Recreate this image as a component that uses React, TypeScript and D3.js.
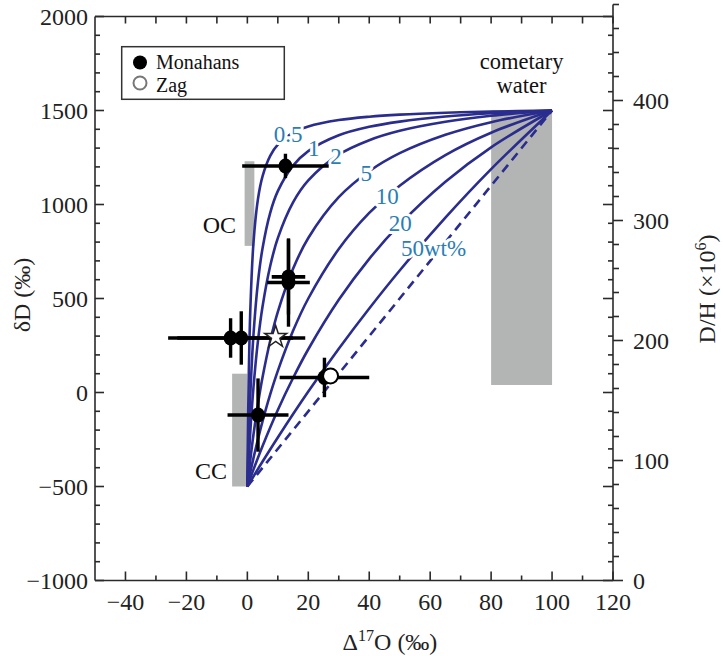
import React from "react";
import * as d3 from "d3";

const W = 723;
const H = 656;

// Axis ticks
const xMajor = [-40, -20, 0, 20, 40, 60, 80, 100, 120];
const xMinor = [-30, -10, 10, 30, 50, 70, 90, 110];
const yMajor = [-1000, -500, 0, 500, 1000, 1500, 2000];
const yMinor = [-900, -800, -700, -600, -400, -300, -200, -100, 100, 200, 300, 400, 600, 700, 800, 900, 1100, 1200, 1300, 1400, 1600, 1700, 1800, 1900];
const dhMajor = [0, 100, 200, 300, 400];
const dhMinor = [20, 40, 60, 80, 120, 140, 160, 180, 220, 240, 260, 280, 320, 340, 360, 380, 420, 440, 460, 480];

// Mixing curves (Δ17O, δD)
const curve05: [number, number][] = [[0, -500], [0.1, -335], [0.25, -132], [0.5, 123], [1, 452], [2, 795], [3.5, 1031], [5, 1151], [7.5, 1259], [10, 1318], [15, 1382], [20, 1415], [30, 1449], [40, 1467], [50, 1478], [65, 1488], [80, 1494], [100, 1500]];
const curve1: [number, number][] = [[0, -500], [0.1, -436], [0.25, -347], [0.5, -216], [1, 0], [2, 305], [3.5, 590], [5, 769], [7.5, 956], [10, 1071], [15, 1207], [20, 1284], [30, 1368], [40, 1413], [50, 1441], [65, 1468], [80, 1485], [100, 1500]];
const curve2: [number, number][] = [[0, -500], [0.1, -466], [0.25, -416], [0.5, -338], [1, -200], [2, 26], [3.5, 277], [5, 459], [7.5, 673], [10, 821], [15, 1011], [20, 1128], [30, 1265], [40, 1342], [50, 1392], [65, 1440], [80, 1472], [100, 1500]];
const curve5: [number, number][] = [[0, -500], [0.5, -425], [1, -354], [2, -225], [3.5, -59], [5, 82], [7.5, 275], [10, 429], [15, 658], [20, 822], [30, 1039], [40, 1177], [50, 1273], [65, 1371], [80, 1438], [100, 1500]];
const curve10: [number, number][] = [[0, -500], [1, -422], [2, -349], [3.5, -247], [5, -152], [7.5, -10], [10, 115], [15, 328], [20, 500], [30, 763], [40, 955], [50, 1100], [65, 1263], [80, 1382], [100, 1500]];
const curve20: [number, number][] = [[0, -500], [2, -410], [5, -284], [10, -93], [15, 77], [20, 230], [30, 493], [40, 711], [50, 894], [65, 1121], [80, 1304], [100, 1500]];
const curve50: [number, number][] = [[0, -500], [5, -367], [10, -239], [20, 5], [30, 233], [40, 447], [50, 649], [65, 930], [80, 1188], [100, 1500]];
const mixCurves = [curve05, curve1, curve2, curve5, curve10, curve20, curve50];
const mixLabels = ["0.5", "1", "2", "5", "10", "20", "50wt%"];
const mixLabelAt: [number, number][] = [[13.4, 1375], [21.8, 1297], [29.1, 1254], [39.0, 1166], [45.9, 1041], [50.2, 900], [61.1, 767]];
const straightLine: [number, number][] = [[0, -500], [100, 1500]];

// Shaded reservoirs: [Δ17O min, Δ17O max], [δD min, δD max]
const regionNames = ["OC", "CC", "cometary"];
const regionO: [number, number][] = [[-0.9, 2.3], [-5, 0], [80, 100]];
const regionD: [number, number][] = [[780, 1230], [-500, 100], [40, 1500]];

// Monahans (filled) with errors
const monO = [12.5, 13.5, 13.5, -5.5, -2, 3.5, 25.3];
const monD = [1205, 615, 585, 290, 290, -120, 80];
const monOerr = [14.2, 5.5, 7, 20.5, 21, 10, 14.7];
const monDerr = [65, 200, 235, 105, 142, 195, 105];
// Zag (open)
const zagO = [27.3];
const zagD = [88];
// Star (mean)
const starO = [9.3];
const starD = [295];

const FONT = "'Liberation Serif', 'Times New Roman', serif";
const CURVE_COLOR = "#2b2d8e";
const LABEL_COLOR = "#2a7db5";
const GRAY = "#b3b5b5";
const AX = "#2a2a2a";

export default function App() {
  const x = d3.scaleLinear().domain([-50, 120]).range([95, 613]);
  const y = d3.scaleLinear().domain([-1000, 2000]).range([580.5, 16.5]);
  const yDH = d3.scaleLinear().domain([0, 480]).range([580.5, 4.5]);

  const line = d3
    .line<[number, number]>()
    .x((d) => x(d[0]))
    .y((d) => y(d[1]))
    .curve(d3.curveCatmullRom.alpha(0.5));

  const star = d3.symbol().type(d3.symbolStar).size(150)();

  const x0 = x(-50), x1 = x(120), y0 = y(-1000), y1 = y(2000);

  return (
    <svg width={W} height={H} style={{ display: "block", position: "absolute", left: 0, top: 0 }} fontFamily={FONT}>
      <rect width={W} height={H} fill="#fff" />

      {/* shaded regions */}
      {regionNames.map((n, i) => (
        <rect key={n} x={x(regionO[i][0])} y={y(regionD[i][1])} width={x(regionO[i][1]) - x(regionO[i][0])} height={y(regionD[i][0]) - y(regionD[i][1])} fill={GRAY} />
      ))}

      {/* mixing curves */}
      {mixCurves.map((c, i) => (
        <path key={i} d={line(c) || ""} fill="none" stroke={CURVE_COLOR} strokeWidth={2.6} />
      ))}
      <path d={line(straightLine) || ""} fill="none" stroke={CURVE_COLOR} strokeWidth={2.6} strokeDasharray="9,6" />

      {mixLabels.map((t, i) => (
        <text key={t} x={x(mixLabelAt[i][0])} y={y(mixLabelAt[i][1])} textAnchor="middle" dominantBaseline="central" fontSize={23} fill={LABEL_COLOR} stroke="#fff" strokeWidth={6} paintOrder="stroke" strokeLinejoin="round">
          {t}
        </text>
      ))}

      {/* error bars */}
      {monO.map((o, i) => (
        <g key={"eb" + i} stroke="#000">
          <line x1={x(o - monOerr[i])} x2={x(o + monOerr[i])} y1={y(monD[i])} y2={y(monD[i])} strokeWidth={3.6} />
          <line x1={x(o)} x2={x(o)} y1={y(monD[i] - monDerr[i])} y2={y(monD[i] + monDerr[i])} strokeWidth={3.4} />
        </g>
      ))}

      {/* markers */}
      {monO.map((o, i) => (
        <ellipse key={"m" + i} cx={x(o)} cy={y(monD[i])} rx={7} ry={7.5} fill="#000" />
      ))}
      {zagO.map((o, i) => (
        <circle key={"z" + i} cx={x(o)} cy={y(zagD[i])} r={7.5} fill="#fff" stroke="#000" strokeWidth={2} />
      ))}
      {starO.map((o, i) => (
        <path key={"s" + i} d={star || ""} transform={`translate(${x(o)},${y(starD[i])})`} fill="#fff" stroke="#222" strokeWidth={1.5} />
      ))}

      {/* region labels */}
      <text x={236} y={y(890)} textAnchor="end" dominantBaseline="central" fontSize={24} fill="#111">OC</text>
      <text x={227} y={y(-420)} textAnchor="end" dominantBaseline="central" fontSize={24} fill="#111">CC</text>
      <text x={x(90)} y={69} textAnchor="middle" fontSize={22.5} fill="#111">cometary</text>
      <text x={x(90)} y={93} textAnchor="middle" fontSize={22.5} fill="#111">water</text>

      {/* frame */}
      <g stroke={AX} strokeWidth={1.6} fill="none">
        <line x1={x0} x2={x1} y1={y0} y2={y0} />
        <line x1={x0} x2={x1} y1={y1} y2={y1} />
        <line x1={x0} x2={x0} y1={y0} y2={y1} />
        <line x1={x1} x2={x1} y1={y0} y2={yDH(480)} />
        {xMajor.map((v) => (
          <g key={"xt" + v}>
            <line x1={x(v)} x2={x(v)} y1={y0} y2={y0 - 9} />
            <line x1={x(v)} x2={x(v)} y1={y1} y2={y1 + 7} />
          </g>
        ))}
        {xMinor.map((v) => (
          <g key={"xm" + v}>
            <line x1={x(v)} x2={x(v)} y1={y0} y2={y0 - 5} />
            <line x1={x(v)} x2={x(v)} y1={y1} y2={y1 + 7} />
          </g>
        ))}
        {yMajor.map((v) => (
          <g key={"yt" + v}>
            <line x1={x0} x2={x0 + 9} y1={y(v)} y2={y(v)} />
            <line x1={x1} x2={x1 - 10} y1={y(v)} y2={y(v)} />
          </g>
        ))}
        {yMinor.map((v) => (
          <g key={"ym" + v}>
            <line x1={x0} x2={x0 + 5} y1={y(v)} y2={y(v)} />
            <line x1={x1} x2={x1 - 5} y1={y(v)} y2={y(v)} />
          </g>
        ))}
        {dhMajor.map((v) => (
          <line key={"dt" + v} x1={x1} x2={x1 + 10} y1={yDH(v)} y2={yDH(v)} />
        ))}
        {dhMinor.map((v) => (
          <line key={"dm" + v} x1={x1} x2={x1 + 6} y1={yDH(v)} y2={yDH(v)} />
        ))}
      </g>

      {/* tick labels */}
      {xMajor.map((v) => (
        <text key={"xl" + v} x={x(v)} y={610} textAnchor="middle" fontSize={24} fill="#222">
          {v < 0 ? "\u2212" + Math.abs(v) : v}
        </text>
      ))}
      {yMajor.map((v) => (
        <text key={"yl" + v} x={88} y={y(v)} textAnchor="end" dominantBaseline="central" fontSize={24} fill="#222">
          {v < 0 ? "\u2212" + Math.abs(v) : v}
        </text>
      ))}
      {dhMajor.map((v) => (
        <text key={"dl" + v} x={633} y={yDH(v)} textAnchor="start" dominantBaseline="central" fontSize={24} fill="#222">
          {v}
        </text>
      ))}

      {/* axis titles */}
      <text x={390} y={650} textAnchor="middle" fontSize={24} fill="#222">
        Δ<tspan fontSize={16} dy={-9}>17</tspan>
        <tspan dy={9}>O (‰)</tspan>
      </text>
      <text transform="translate(30,295) rotate(-90)" textAnchor="middle" fontSize={24} fill="#222">
        δD (‰)
      </text>
      <text transform="translate(715,289) rotate(-90)" textAnchor="middle" fontSize={24} fill="#222">
        D/H (×10<tspan fontSize={16} dy={-9}>6</tspan>
        <tspan dy={9}>)</tspan>
      </text>

      {/* legend */}
      <rect x={121.7} y={46.7} width={162.6} height={52.6} fill="#fff" stroke="#333" strokeWidth={1.5} />
      <circle cx={140} cy={62.5} r={7} fill="#000" />
      <circle cx={140} cy={83} r={6.5} fill="#fff" stroke="#777" strokeWidth={2} />
      <text x={156} y={68.5} fontSize={20} fill="#111">Monahans</text>
      <text x={156} y={91.5} fontSize={20} fill="#111">Zag</text>
    </svg>
  );
}
